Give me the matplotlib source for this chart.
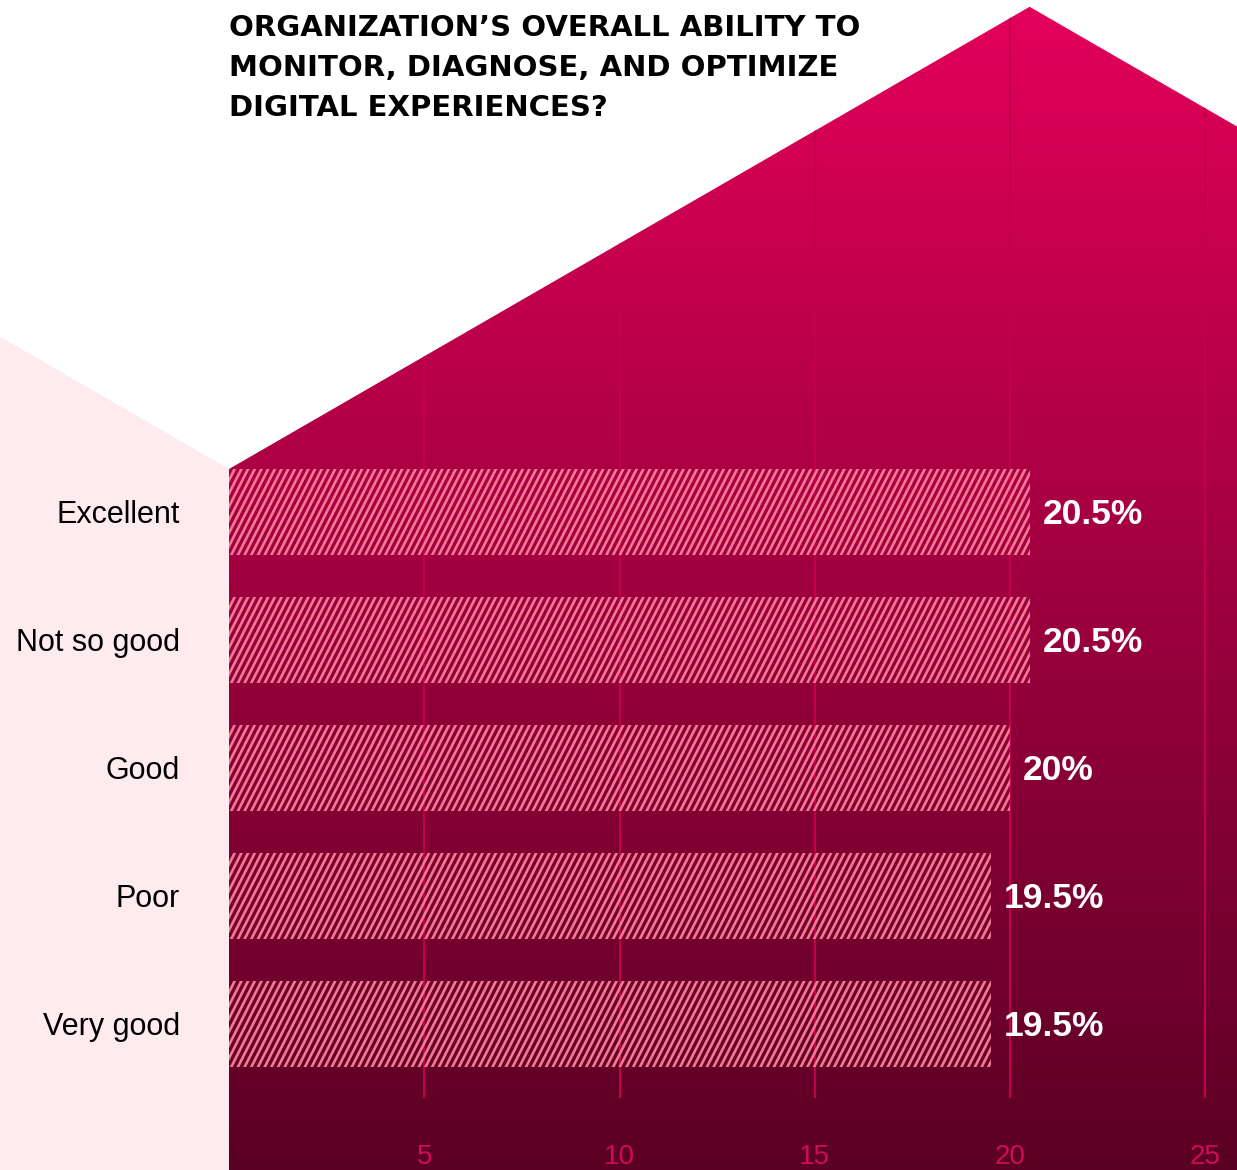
import numpy as np
import matplotlib.pyplot as plt
from matplotlib.patches import Polygon
from matplotlib.collections import LineCollection

# survey results
categories = ['Excellent', 'Not so good', 'Good', 'Poor', 'Very good']
values = [20.5, 20.5, 20.0, 19.5, 19.5]
value_labels = ['20.5%', '20.5%', '20%', '19.5%', '19.5%']
xticks = [5, 10, 15, 20, 25]
title = ("ORGANIZATION\u2019S OVERALL ABILITY TO\n"
         "MONITOR, DIAGNOSE, AND OPTIMIZE\n"
         "DIGITAL EXPERIENCES?")

W, H = 1237, 1170
top_rgb = np.array([228, 0, 91]) / 255
bot_rgb = np.array([90, 0, 35]) / 255
pink_bg = '#feebef'
stripe = '#f27a93'
grid_c = '#c4004d'
tick_c = '#d20a57'

fig = plt.figure(figsize=(W / 100, H / 100), dpi=100)
fig.patch.set_facecolor('white')
ax = fig.add_axes([229 / W, 0, 1 - 229 / W, 1])
xmax = 25.81
ymin, ymax = -4.0, 5.14
ax.set_xlim(0, xmax)
ax.set_ylim(ymax, ymin)
ax.axis('off')

bar_h = 0.672
to_disp = ax.transData
to_data = ax.transData.inverted()

# roof: 30 degree slopes, eave at the top of the first bar, ridge over the max value
slope = np.tan(np.radians(30))
eave = to_disp.transform((0, -bar_h / 2))
ridge_x = max(values)
rx = to_disp.transform((ridge_x, 0))[0]
ridge = (rx, eave[1] + (rx - eave[0]) * slope)
right_x = to_disp.transform((xmax, 0))[0]
right = (right_x, ridge[1] - (right_x - rx) * slope)
ridge_d = to_data.transform(ridge)
right_d = to_data.transform(right)
roof = Polygon([(0, -bar_h / 2), tuple(ridge_d), tuple(right_d),
                (xmax, ymax), (0, ymax)], closed=True,
               facecolor='none', edgecolor='none')
ax.add_patch(roof)

# left pale panel, mirrored slope
fig_left = to_data.transform((0, 0))[0]
left_pt = to_data.transform((0, eave[1] + eave[0] * slope))
panel = Polygon([(fig_left, left_pt[1]), (0, -bar_h / 2), (0, ymax), (fig_left, ymax)],
                closed=True, facecolor=pink_bg, edgecolor='none', clip_on=False, zorder=0)
ax.add_patch(panel)

# vertical gradient inside the roof
grad = np.linspace(0, 1, 512)[:, None, None]
img = top_rgb * (1 - grad) + bot_rgb * grad
im = ax.imshow(img, extent=(0, xmax, ymax, ymin), aspect='auto', zorder=1)
im.set_clip_path(roof)
ax.set_xlim(0, xmax)
ax.set_ylim(ymax, ymin)

# grid lines
gl = ax.vlines(xticks, ymin, 4.58, colors=grid_c, linewidth=1.5, zorder=2)
gl.set_clip_path(roof)
for t in xticks:
    ax.text(t, 5.04, str(t), ha='center', va='center', color=tick_c,
            fontsize=20, family='Liberation Sans')

# bars with diagonal stripes
bars = ax.barh(range(len(values)), values, height=bar_h, color='none',
               edgecolor='none', zorder=3)
gap = 6.7
for bar in bars:
    x0, y0 = bar.get_x(), bar.get_y()
    (ax0, ay0), (ax1, ay1) = to_disp.transform([(x0, y0), (x0 + bar.get_width(), y0 + bar.get_height())])
    lo, hi = min(ay0, ay1), max(ay0, ay1)
    run = (hi - lo) / np.tan(np.radians(62))
    starts = np.arange(ax0 - run - gap, ax1 + gap, gap)
    segs = [to_data.transform([(s, lo - 2), (s + run, hi + 2)]) for s in starts]
    lc = LineCollection(segs, colors=stripe, linewidths=1.9, zorder=4)
    ax.add_collection(lc)
    lc.set_clip_path(bar)

for i, (v, lab) in enumerate(zip(values, value_labels)):
    ax.text(v + 0.33, i + 0.02, lab, ha='left', va='center', color='white',
            fontsize=25.5, fontweight='bold', family='Liberation Sans', zorder=5)

for i, c in enumerate(categories):
    ax.text(-1.255, i + 0.02, c, ha='right', va='center', color='black',
            fontsize=22, family='Liberation Sans', clip_on=False, zorder=5)

fig.text(229 / W, 1 - 14 / H, title, ha='left', va='top', color='black',
         fontsize=21, fontweight='bold', family='DejaVu Sans', linespacing=1.55)

fig.savefig('out.png', dpi=100)
